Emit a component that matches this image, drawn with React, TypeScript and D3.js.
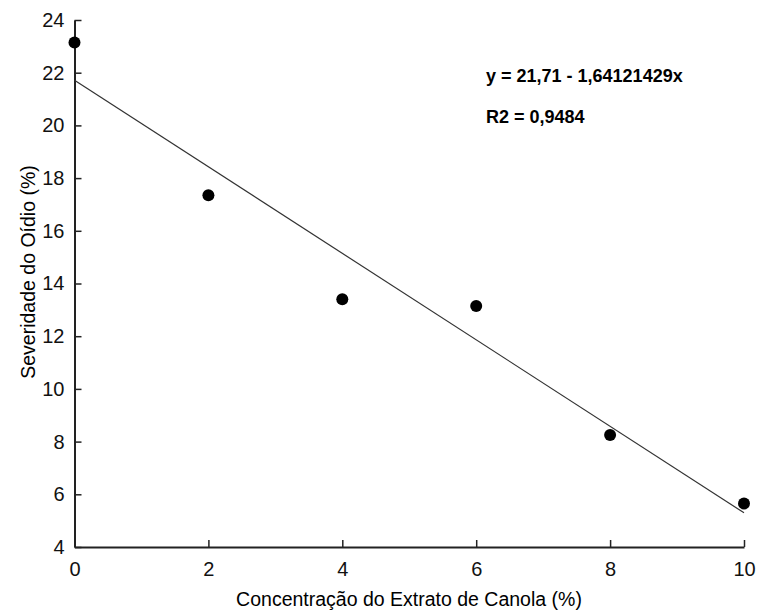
import * as d3 from "d3";
import { useEffect, useRef } from "react";

// dados
const concentracao = [0, 2, 4, 6, 8, 10];
const severidade = [23.15, 17.35, 13.4, 13.15, 8.25, 5.65];
const xTicks = [0, 2, 4, 6, 8, 10];
const yTicks = [4, 6, 8, 10, 12, 14, 16, 18, 20, 22, 24];
const intercepto = 21.71;
const inclinacao = -1.64121429;

function App() {
  const ref = useRef<SVGSVGElement>(null);

  useEffect(() => {
    const width = 759, height = 612;
    const margin = { top: 20, right: 15, bottom: 65, left: 74.5 };

    const svg = d3.select(ref.current);
    svg.selectAll("*").remove();

    const x = d3.scaleLinear().domain([0, 10]).range([margin.left, 744]);
    const y = d3.scaleLinear().domain([4, 24]).range([547, margin.top]);

    const font = "Arial, 'Liberation Sans', sans-serif";

    // eixo y
    const gy = svg.append("g")
      .attr("transform", "translate(" + margin.left + ",0)")
      .call(d3.axisLeft(y).tickValues(yTicks).tickSizeInner(-7).tickSizeOuter(0).tickPadding(10));
    gy.select(".domain").attr("stroke", "#222").attr("stroke-width", 2);
    gy.selectAll(".tick line").attr("stroke", "#222").attr("stroke-width", 1.5);
    gy.selectAll(".tick text").attr("font-size", 20).attr("font-family", font).attr("fill", "#111");

    // eixo x
    const gx = svg.append("g")
      .attr("transform", "translate(0,547)")
      .call(d3.axisBottom(x).tickValues(xTicks).tickSizeInner(-7).tickSizeOuter(0).tickPadding(15));
    gx.select(".domain").attr("stroke", "#222").attr("stroke-width", 2);
    gx.selectAll(".tick line").attr("stroke", "#222").attr("stroke-width", 1.5);
    gx.selectAll(".tick text").attr("font-size", 20).attr("font-family", font).attr("fill", "#111");

    // reta de regressão
    const reta = d3.line<number>()
      .x((d) => x(d))
      .y((d) => y(intercepto + inclinacao * d));
    svg.append("path")
      .datum([0, 10])
      .attr("d", reta)
      .attr("fill", "none")
      .attr("stroke", "#333")
      .attr("stroke-width", 1.2);

    // pontos
    svg.selectAll("circle")
      .data(concentracao)
      .enter()
      .append("circle")
      .attr("cx", (d) => x(d))
      .attr("cy", (d, i) => y(severidade[i]))
      .attr("r", 6)
      .attr("fill", "#000");

    // equação
    svg.append("text")
      .attr("x", 486).attr("y", 82)
      .attr("font-size", 18).attr("font-weight", "bold").attr("font-family", font)
      .text("y = 21,71 - 1,64121429x");
    svg.append("text")
      .attr("x", 486).attr("y", 123)
      .attr("font-size", 18).attr("font-weight", "bold").attr("font-family", font)
      .text("R2 = 0,9484");

    // títulos dos eixos
    svg.append("text")
      .attr("x", 409).attr("y", 606)
      .attr("text-anchor", "middle")
      .attr("font-size", 19.5).attr("font-family", font)
      .text("Concentração do Extrato de Canola (%)");
    svg.append("text")
      .attr("transform", "translate(35,272) rotate(-90)")
      .attr("text-anchor", "middle")
      .attr("font-size", 19.5).attr("font-family", font)
      .text("Severidade do Oídio (%)");

    svg.attr("width", width).attr("height", height);
  }, []);

  return (
    <div style={{ position: "absolute", left: 0, top: 0 }}>
      <svg ref={ref} width={759} height={612} style={{ background: "#fff", display: "block" }} />
    </div>
  );
}

export default App;
